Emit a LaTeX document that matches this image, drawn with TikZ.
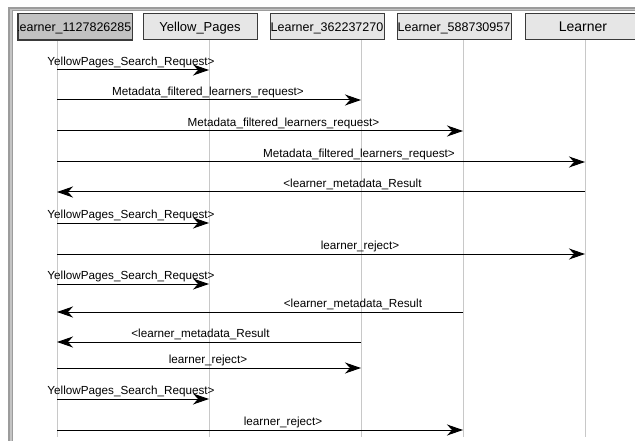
\documentclass[tikz,border=0pt]{standalone}
\usepackage{fontspec}
\setmainfont{Liberation Sans}
\usetikzlibrary{arrows.meta}
\definecolor{lifegray}{HTML}{C8C8C8}
\definecolor{boxborder}{HTML}{3A3A3A}
\definecolor{boxfill}{HTML}{E6E6E6}
\definecolor{boxdark}{HTML}{C2C2C2}
\definecolor{frameouter}{HTML}{9C9C9C}
\definecolor{frameinner}{HTML}{C4C4C4}
\begin{document}
\begin{tikzpicture}[x=1pt,y=1pt,
  hdr/.style={draw=boxborder, fill=boxfill, line width=1pt, minimum width=114pt,
    minimum height=26pt, inner sep=0pt, text height=9pt, text depth=0pt,
    font=\fontsize{12.5}{14}\selectfont},
  hdrtext/.style={inner sep=0pt, text height=9pt, text depth=0pt,
    font=\fontsize{12.5}{14}\selectfont},
  msg/.style={draw=black, line width=1pt, -{Stealth[length=16pt,width=11pt,inset=5pt]}},
  lbl/.style={anchor=base, inner sep=0pt, font=\fontsize{11.7}{13}\selectfont},
  life/.style={draw=lifegray, line width=1pt}]
\useasboundingbox (0,0) rectangle (635,-441);
\clip (0,0) rectangle (635,-441);
% window frame
\fill[frameouter] (8,-7) rectangle (640,-11);
\fill[frameouter] (8,-7) rectangle (13,-445);
\fill[frameinner] (10,-9) rectangle (640,-10.5);
\fill[frameinner] (10,-9) rectangle (11.5,-445);
% lifelines
\coordinate (l1) at (57,-40);   \coordinate (e1) at (57,-437);
\coordinate (l2) at (209,-40);  \coordinate (e2) at (209,-437);
\coordinate (l3) at (361,-40);  \coordinate (e3) at (361,-437);
\coordinate (l4) at (463,-40);  \coordinate (e4) at (463,-437);
\coordinate (l5) at (585,-40);  \coordinate (e5) at (585,-437);
\foreach \i in {1,...,5} { \draw[life] (l\i) -- (e\i); }
% header boxes
\node[hdr, fill=boxdark] (b1) at (75,-27) {};
\begin{scope}
  \clip (b1.south west) rectangle (b1.north east);
  \node[hdrtext, anchor=east] (b1t) at (131.5,-27) {Learner\_1127826285};
\end{scope}
\draw[boxborder, line width=1pt] (b1.south west) rectangle (b1.north east);
\node[hdr, font=\fontsize{13}{15}\selectfont] (b2) at (200,-27) {Yellow\_Pages};
\node[hdr] (b3) at (327,-27) {Learner\_362237270};
\node[hdr] (b4) at (454,-27) {Learner\_588730957};
\node[hdr, minimum width=116pt, font=\fontsize{14}{16}\selectfont] (b5) at (583,-27) {Learner};
% messages
\draw[msg] (l1 |- 0,-70) -- (l2 |- 0,-70);
\node[lbl] (t1) at (131,-65.5) {YellowPages\_Search\_Request>};
\draw[msg] (l1 |- 0,-100) -- (l3 |- 0,-100);
\node[lbl] (t2) at (208,-95.5) {Metadata\_filtered\_learners\_request>};
\draw[msg] (l1 |- 0,-131) -- (l4 |- 0,-131);
\node[lbl] (t3) at (283.5,-126.5) {Metadata\_filtered\_learners\_request>};
\draw[msg] (l1 |- 0,-162) -- (l5 |- 0,-162);
\node[lbl] (t4) at (359,-157.5) {Metadata\_filtered\_learners\_request>};
\draw[msg] (l5 |- 0,-192) -- (l1 |- 0,-192);
\node[lbl] (t5) at (352.5,-187.5) {<learner\_metadata\_Result};
\draw[msg] (l1 |- 0,-223) -- (l2 |- 0,-223);
\node[lbl] (t6) at (131,-218.5) {YellowPages\_Search\_Request>};
\draw[msg] (l1 |- 0,-254) -- (l5 |- 0,-254);
\node[lbl] (t7) at (360,-249.5) {learner\_reject>};
\draw[msg] (l1 |- 0,-284) -- (l2 |- 0,-284);
\node[lbl] (t8) at (131,-279.5) {YellowPages\_Search\_Request>};
\draw[msg] (l4 |- 0,-312) -- (l1 |- 0,-312);
\node[lbl] (t9) at (353,-307.5) {<learner\_metadata\_Result};
\draw[msg] (l3 |- 0,-342) -- (l1 |- 0,-342);
\node[lbl] (t10) at (200.5,-337.5) {<learner\_metadata\_Result};
\draw[msg] (l1 |- 0,-368) -- (l3 |- 0,-368);
\node[lbl] (t11) at (208,-363.5) {learner\_reject>};
\draw[msg] (l1 |- 0,-399) -- (l2 |- 0,-399);
\node[lbl] (t12) at (131,-394.5) {YellowPages\_Search\_Request>};
\draw[msg] (l1 |- 0,-430) -- (l4 |- 0,-430);
\node[lbl] (t13) at (283,-425.5) {learner\_reject>};
\end{tikzpicture}
\end{document}
